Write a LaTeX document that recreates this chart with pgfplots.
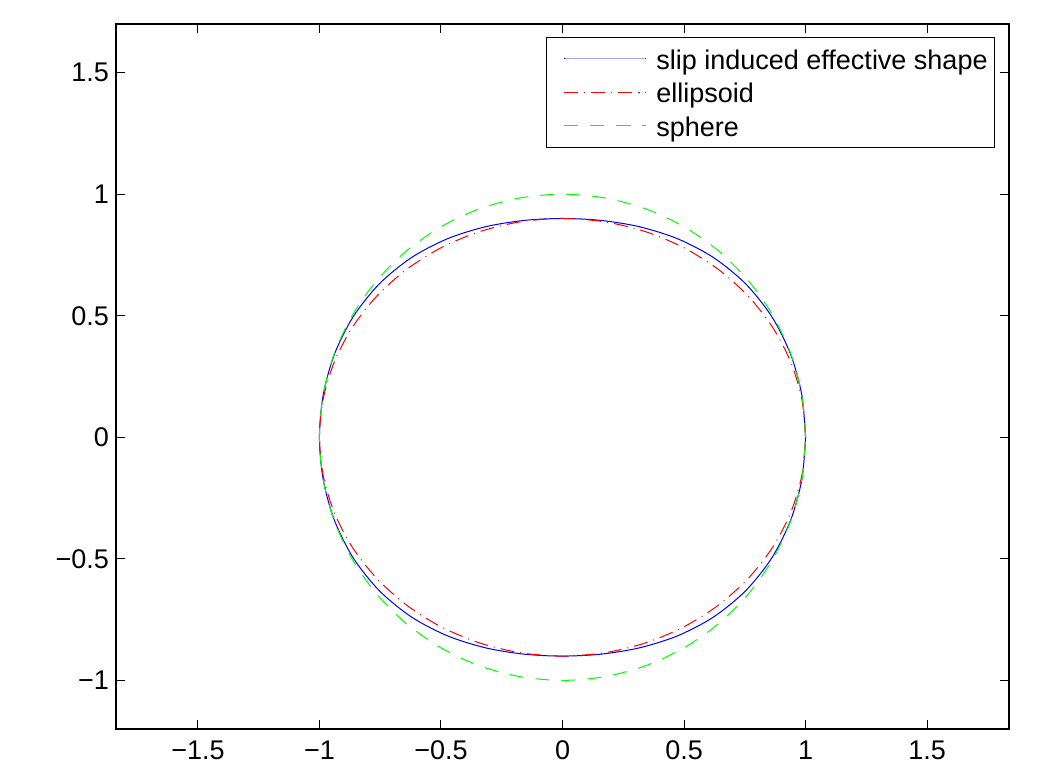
\documentclass[border=0pt]{standalone}
\usepackage{fontspec}
\setmainfont{Liberation Sans}
\usepackage{pgfplots}
\pgfplotsset{compat=1.18}

\definecolor{mblue}{RGB}{0,0,255}
\definecolor{mred}{RGB}{255,0,0}
\definecolor{mgreen}{RGB}{0,255,0}

\begin{document}
\begin{tikzpicture}
\useasboundingbox (0,0) rectangle (521.5pt,384pt);
\begin{axis}[
  at={(58pt,19.5pt)}, anchor=south west,
  scale only axis,
  width=446.5pt, height=352.5pt,
  xmin=-1.837, xmax=1.837,
  ymin=-1.2, ymax=1.7,
  xtick={-1.5,-1,-0.5,0,0.5,1,1.5},
  xticklabels={−1.5,−1,−0.5,0,0.5,1,1.5},
  ytick={-1,-0.5,0,0.5,1,1.5},
  yticklabels={−1,−0.5,0,0.5,1,1.5},
  tick align=inside,
  major tick length=4.5pt,
  tick style={black, line width=0.5pt},
  axis line style={line width=0.6pt},
  ticklabel style={font=\fontsize{13.5}{16}\selectfont},
  xticklabel style={yshift=-2.5pt},
  legend cell align=left,
  legend image code/.code={%
    \path[draw=none,fill=none] (0pt,0pt) (51.5pt,0pt);
    \draw[#1] plot coordinates {(5.5pt,0pt) (26pt,0pt) (46.5pt,0pt)};},
  legend style={
    at={(0.98432,0.98156)}, anchor=north east,
    font=\fontsize{13.5}{16}\selectfont,
    inner xsep=3.5pt, inner ysep=2.45pt, row sep=0pt,
    nodes={inner xsep=0pt, inner ysep=1pt, text height=12.5pt, text depth=2.2pt},
  },
]
\addplot[mblue, line width=0.5pt, smooth] coordinates {
  (1,0) (0.9847,0.1736) (0.9384,0.3415) (0.8606,0.4969) (0.7529,0.6318)
  (0.6207,0.7397) (0.4719,0.8173) (0.3153,0.8664) (0.1573,0.8922) (0,0.9)
  (-0.1573,0.8922) (-0.3153,0.8664) (-0.4719,0.8173) (-0.6207,0.7397) (-0.7529,0.6318)
  (-0.8606,0.4969) (-0.9384,0.3415) (-0.9847,0.1736) (-1,0)
  (-0.9847,-0.1736) (-0.9384,-0.3415) (-0.8606,-0.4969) (-0.7529,-0.6318)
  (-0.6207,-0.7397) (-0.4719,-0.8173) (-0.3153,-0.8664) (-0.1573,-0.8922) (0,-0.9)
  (0.1573,-0.8922) (0.3153,-0.8664) (0.4719,-0.8173) (0.6207,-0.7397) (0.7529,-0.6318)
  (0.8606,-0.4969) (0.9384,-0.3415) (0.9847,-0.1736) (1,0)
};
\addlegendentry{slip induced effective shape}
\addplot[mred, line width=0.5pt, smooth, dash pattern=on 7pt off 3pt on 0.5pt off 3pt] coordinates {
  (1,0) (0.9848,0.1562) (0.9397,0.3078) (0.8660,0.45) (0.7660,0.5785)
  (0.6428,0.6894) (0.5,0.7794) (0.3420,0.8457) (0.1736,0.8863) (0,0.9)
  (-0.1736,0.8863) (-0.3420,0.8457) (-0.5,0.7794) (-0.6428,0.6894) (-0.7660,0.5785)
  (-0.8660,0.45) (-0.9397,0.3078) (-0.9848,0.1562) (-1,0)
  (-0.9848,-0.1562) (-0.9397,-0.3078) (-0.8660,-0.45) (-0.7660,-0.5785)
  (-0.6428,-0.6894) (-0.5,-0.7794) (-0.3420,-0.8457) (-0.1736,-0.8863) (0,-0.9)
  (0.1736,-0.8863) (0.3420,-0.8457) (0.5,-0.7794) (0.6428,-0.6894) (0.7660,-0.5785)
  (0.8660,-0.45) (0.9397,-0.3078) (0.9848,-0.1562) (1,0)
};
\addlegendentry{ellipsoid}
\addplot[mgreen, line width=0.5pt, smooth, dash pattern=on 7pt off 6pt] coordinates {
  (1,0) (0.9848,0.1736) (0.9397,0.3420) (0.8660,0.5) (0.7660,0.6428)
  (0.6428,0.7660) (0.5,0.8660) (0.3420,0.9397) (0.1736,0.9848) (0,1)
  (-0.1736,0.9848) (-0.3420,0.9397) (-0.5,0.8660) (-0.6428,0.7660) (-0.7660,0.6428)
  (-0.8660,0.5) (-0.9397,0.3420) (-0.9848,0.1736) (-1,0)
  (-0.9848,-0.1736) (-0.9397,-0.3420) (-0.8660,-0.5) (-0.7660,-0.6428)
  (-0.6428,-0.7660) (-0.5,-0.8660) (-0.3420,-0.9397) (-0.1736,-0.9848) (0,-1)
  (0.1736,-0.9848) (0.3420,-0.9397) (0.5,-0.8660) (0.6428,-0.7660) (0.7660,-0.6428)
  (0.8660,-0.5) (0.9397,-0.3420) (0.9848,-0.1736) (1,0)
};
\addlegendentry{sphere}
\end{axis}
\end{tikzpicture}
\end{document}
